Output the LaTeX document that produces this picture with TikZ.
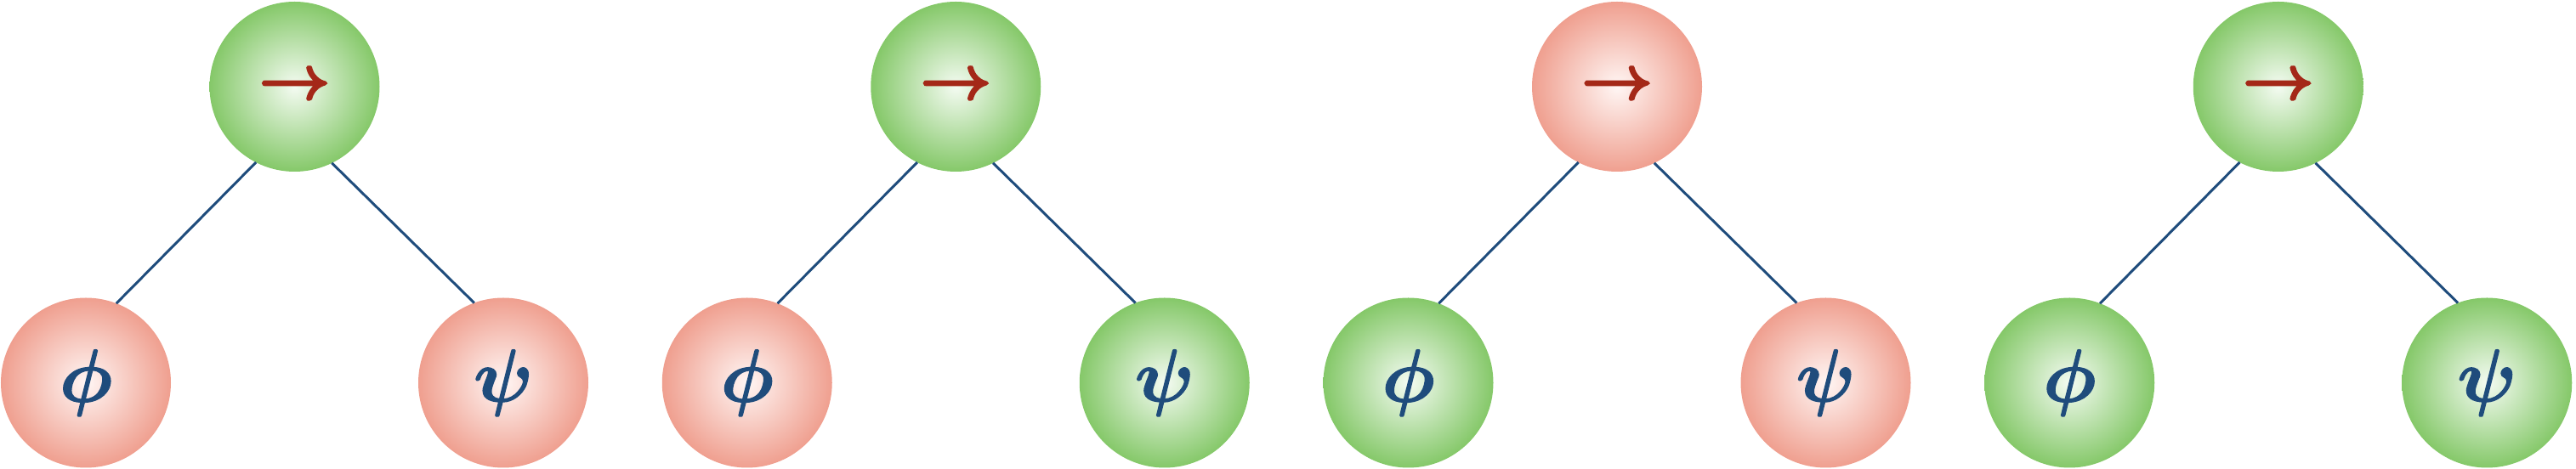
\documentclass[tikz,border=0pt]{standalone}
\definecolor{gin}{RGB}{244,251,242}
\definecolor{gout}{RGB}{124,196,94}
\definecolor{rin}{RGB}{255,246,244}
\definecolor{rout}{RGB}{238,152,135}
\definecolor{edgeblue}{RGB}{31,76,124}
\definecolor{arrowred}{RGB}{164,40,24}
\pgfdeclareradialshading{gball}{\pgfpoint{0bp}{0bp}}{color(0bp)=(gin); color(27bp)=(gout); color(50bp)=(gout)}
\pgfdeclareradialshading{rball}{\pgfpoint{0bp}{0bp}}{color(0bp)=(rin); color(27bp)=(rout); color(50bp)=(rout)}
\tikzset{
  ballnode/.style={circle, minimum size=2cm, inner sep=0pt, outer sep=0pt},
  gnode/.style={ballnode, shading=gball},
  rnode/.style={ballnode, shading=rball},
  opnode/.style={font=\fontsize{21}{21}\selectfont\boldmath, text=arrowred},
  leafnode/.style={font=\fontsize{29}{29}\selectfont\boldmath, text=edgeblue},
  treeedge/.style={draw=edgeblue, line width=0.85pt}
}
\newcommand{\heavytext}[2]{\special{pdf:literal direct 2 Tr #1 w}#2\special{pdf:literal direct 0 Tr}}
\newcommand{\oparrow}{\raisebox{-2pt}{\heavytext{0.7}{$\rightarrow$}}}
\newcommand{\leafsym}[1]{\heavytext{0.4}{$#1$}}
\begin{document}
\begin{tikzpicture}
\useasboundingbox (0,0) rectangle (30.30,5.52);
% tree 1
\node[gnode,opnode] (r1) at (3.465,4.50) {\oparrow};
\node[rnode,leafnode] (a1) at (1.01,1.015) {\leafsym{\phi}};
\node[rnode,leafnode] (b1) at (5.92,1.015) {\leafsym{\psi}};
% tree 2
\node[gnode,opnode] (r2) at (11.2425,4.50) {\oparrow};
\node[rnode,leafnode] (a2) at (8.7875,1.015) {\leafsym{\phi}};
\node[gnode,leafnode] (b2) at (13.6975,1.015) {\leafsym{\psi}};
% tree 3
\node[rnode,opnode] (r3) at (19.02,4.50) {\oparrow};
\node[gnode,leafnode] (a3) at (16.565,1.015) {\leafsym{\phi}};
\node[rnode,leafnode] (b3) at (21.475,1.015) {\leafsym{\psi}};
% tree 4
\node[gnode,opnode] (r4) at (26.7975,4.50) {\oparrow};
\node[gnode,leafnode] (a4) at (24.3425,1.015) {\leafsym{\phi}};
\node[gnode,leafnode] (b4) at (29.2525,1.015) {\leafsym{\psi}};
\foreach \i in {1,2,3,4}{
  \draw[treeedge] (r\i.243.7) -- (a\i.69.5);
  \draw[treeedge] (r\i.296.3) -- (b\i.110.5);
}
\end{tikzpicture}
\end{document}
